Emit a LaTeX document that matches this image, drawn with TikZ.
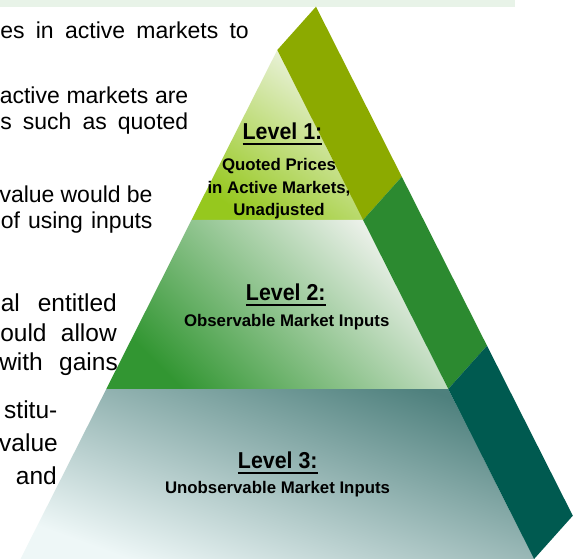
\documentclass[tikz,border=0pt]{standalone}
\usepackage{fontspec}
\setmainfont{Liberation Sans}
\newfontfamily\headfont[FakeStretch=0.93]{Liberation Sans}
\usepackage{tikz}
\usetikzlibrary{calc,positioning}

\definecolor{topstrip}{RGB}{232,243,232}
\definecolor{oliveside}{RGB}{140,170,0}
\definecolor{greenside}{RGB}{44,138,48}
\definecolor{tealside}{RGB}{0,90,80}
\definecolor{lvlonedark}{RGB}{150,200,30}
\definecolor{lvlonelight}{RGB}{240,245,232}
\definecolor{lvltwodark}{RGB}{50,150,50}
\definecolor{lvltwolight}{RGB}{242,244,240}
\definecolor{lvlthreedark}{RGB}{78,128,125}
\definecolor{lvlthreelight}{RGB}{238,247,247}

% underlined heading with a thick rule
\newcommand{\headline}[1]{\vtop{\hbox{#1}\kern3pt\hrule height 2pt}}

\begin{document}
\begin{tikzpicture}[
x=1pt, y=-1pt,
bodytext/.style={anchor=base east, inner sep=0pt, font=\fontsize{23}{26}\selectfont},
bodytextbig/.style={bodytext, font=\fontsize{24.5}{30}\selectfont},
levelhead/.style={anchor=base, inner sep=0pt, font=\headfont\bfseries\fontsize{23}{26}\selectfont},
leveltext/.style={anchor=base, inner sep=0pt, font=\bfseries\fontsize{16.8}{20}\selectfont},
]
\clip (0,0) rectangle (579,559);
\fill[white] (0,0) rectangle (579,559);
\fill[topstrip] (0,0) rectangle (515,7);

%Corners
\coordinate (apex) at (277.3,50);
\coordinate (l1) at (191.5,220);
\coordinate (r1) at (363.1,220);
\coordinate (l2) at (106.3,389);
\coordinate (r2) at (448.3,389);
\coordinate (l3) at (20.5,559);
\coordinate (r3) at (534.1,559);
\coordinate (b0) at ($(apex)+(38.7,-43.3)$);
\coordinate (b1) at ($(r1)+(38.7,-43.3)$);
\coordinate (b2) at ($(r2)+(38.7,-43.3)$);
\coordinate (b3) at ($(r3)+(38.7,-43.3)$);

%Front
\shade[top color=lvlonelight, bottom color=lvlonedark, shading angle=-35] (apex) -- (r1) -- (l1) -- cycle;
\shade[top color=lvltwolight, bottom color=lvltwodark, shading angle=-45] (l1) -- (r1) -- (r2) -- (l2) -- cycle;
\shade[top color=lvlthreedark, bottom color=lvlthreelight, shading angle=-20] (l2) -- (r2) -- (r3) -- (l3) -- cycle;

%Side
\fill[oliveside] (apex) -- (r1) -- (b1) -- (b0) -- cycle;
\fill[greenside] (r1) -- (r2) -- (b2) -- (b1) -- cycle;
\fill[tealside] (r2) -- (r3) -- (b3) -- (b2) -- cycle;

%Labels
\node[levelhead] (lvlone) at (282.5,140) {\headline{Level 1:}};
\node[leveltext] (lvlonea) at (279,170.7) {Quoted Prices};
\node[leveltext] (lvloneb) at (279,193.3) {in Active Markets,};
\node[leveltext] (lvlonec) at (279,216) {Unadjusted};
\node[levelhead] (lvltwo) at (285.8,301) {\headline{Level 2:}};
\node[leveltext] (lvltwoa) at (286.7,326.7) {Observable Market Inputs};
\node[levelhead] (lvlthree) at (277.8,468.3) {\headline{Level 3:}};
\node[leveltext] (lvlthreea) at (277.5,493.3) {Unobservable Market Inputs};

%Text
\node[bodytext] (txta) at (249,38.5) {\makebox[248.5pt][s]{es in active markets to}};
\node[bodytext] (txtb) at (188.5,103.3) {\makebox[188.5pt][s]{active markets are}};
\node[bodytext] (txtc) at (188.5,130) {\makebox[188pt][s]{s such as quoted}};
\node[bodytext] (txtd) at (152.7,202.5) {\makebox[153pt][s]{value would be}};
\node[bodytext] (txte) at (152.7,228.5) {\makebox[151.7pt][s]{of using inputs}};
\node[bodytextbig] (txtf) at (117,311) {\makebox[116pt][s]{al entitled}};
\node[bodytextbig] (txtg) at (117,341) {\makebox[116.5pt][s]{ould allow}};
\node[bodytextbig] (txth) at (118,370) {\makebox[118.5pt][s]{with gains}};
\node[bodytextbig] (txti) at (57.5,418) {stitu-};
\node[bodytextbig] (txtj) at (58,451) {value};
\node[bodytextbig] (txtk) at (57,484) {and};
\end{tikzpicture}
\end{document}
